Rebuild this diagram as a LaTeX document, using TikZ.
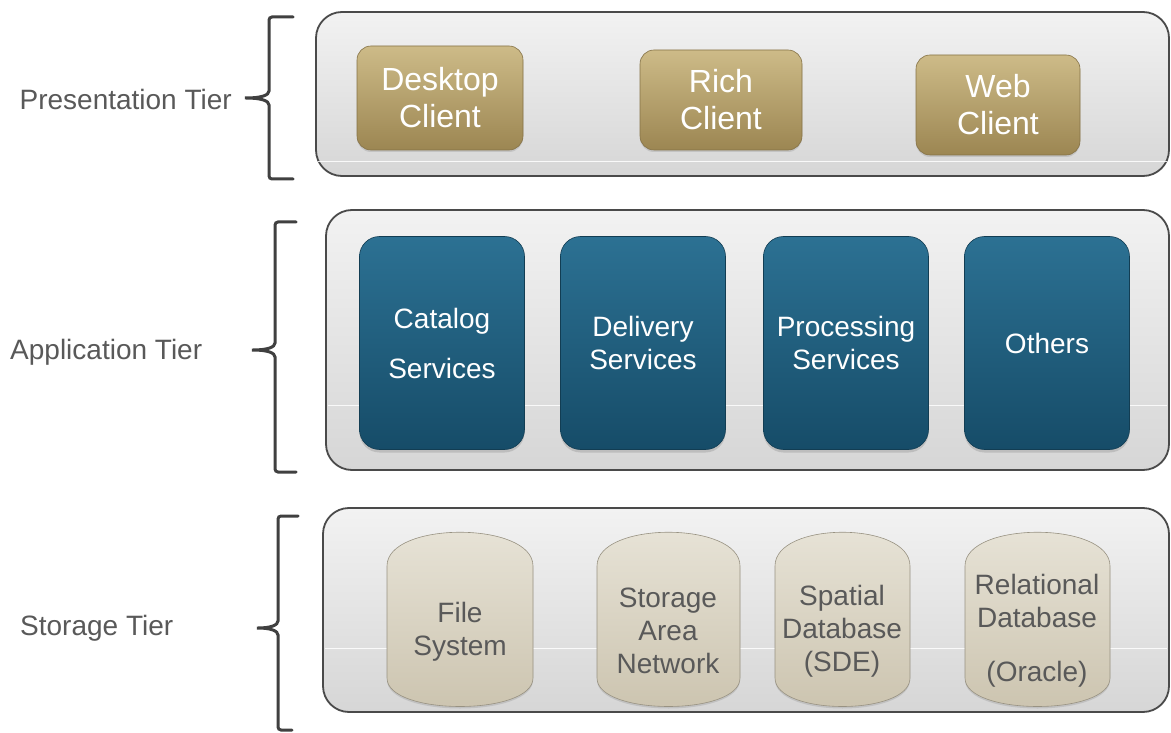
\documentclass[tikz,border=0pt]{standalone}
\usepackage{fontspec}
\setmainfont{Liberation Sans}
\usetikzlibrary{shadows}

\definecolor{panelTop}{HTML}{F2F2F2}
\definecolor{panelBot}{HTML}{D6D6D6}
\definecolor{panelEdge}{HTML}{4A4A4A}
\definecolor{goldTop}{HTML}{CDBB88}
\definecolor{goldBot}{HTML}{9C8652}
\definecolor{blueTop}{HTML}{2C7193}
\definecolor{blueBot}{HTML}{164C68}
\definecolor{sandTop}{HTML}{E8E4D8}
\definecolor{sandBot}{HTML}{CBC3AE}
\definecolor{labelGray}{HTML}{595959}
\definecolor{braceGray}{HTML}{404040}

\tikzset{
  panel/.style={draw=panelEdge, line width=1.8pt, rounded corners=26pt,
    top color=panelTop, bottom color=panelBot},
  sheen/.style={draw=white, line width=1pt, opacity=0.85},
  clientbox/.style={rounded corners=14pt, top color=goldTop, bottom color=goldBot,
    draw=goldBot!85!black, line width=0.6pt,
    drop shadow={opacity=0.25, shadow xshift=0pt, shadow yshift=-2pt},
    minimum width=166pt, minimum height=104pt, inner sep=0pt,
    align=center, text=white, font=\fontsize{32}{37}\selectfont},
  servicebox/.style={rounded corners=20pt, top color=blueTop, bottom color=blueBot,
    draw=blueBot!80!black, line width=0.6pt,
    drop shadow={opacity=0.3, shadow xshift=0pt, shadow yshift=-3pt},
    minimum width=165pt, minimum height=213pt, inner sep=0pt,
    align=center, text=white, font=\fontsize{28}{33}\selectfont},
  drum/.style={top color=sandTop, bottom color=sandBot,
    draw=sandBot!75!black, line width=0.6pt,
    drop shadow={opacity=0.25, shadow xshift=0pt, shadow yshift=-2pt}},
  drumtext/.style={align=center, text=labelGray, inner sep=0pt,
    font=\fontsize{28}{33}\selectfont},
  tierlabel/.style={text=labelGray, inner sep=0pt, font=\fontsize{28}{32}\selectfont},
  tierbrace/.style={draw=braceGray, line width=3pt, rounded corners=3pt, line cap=round}
}

% storage drum: left x, right x
\newcommand{\drumshape}[2]{%
  \path[drum] (#1,678) -- (#1,566) .. controls (#1,521) and (#2,521) .. (#2,566)
    -- (#2,678) .. controls (#2,716) and (#1,716) .. (#1,678) -- cycle;}

\begin{document}
\begin{tikzpicture}[x=1pt, y=-1pt]
\useasboundingbox (0,0) rectangle (1171,733);
\fill[white] (0,0) rectangle (1171,733);

% ---- tier panels ----
\path[panel] (316,12) rectangle (1169,176);
\draw[sheen] (318,162) -- (1167,162);
\path[panel] (326,210) rectangle (1169,470);
\draw[sheen] (328,405) -- (1167,405);
\path[panel] (323,508) rectangle (1169,712);
\draw[sheen] (325,648) -- (1167,648);

% ---- presentation tier ----
\node[clientbox] (desktop) at (440,98) {Desktop\\Client};
\node[clientbox, minimum width=162pt, minimum height=100pt] (rich) at (721,100) {Rich\\Client};
\node[clientbox, minimum width=164pt, minimum height=100pt] (web) at (998,105) {Web\\Client};

% ---- application tier ----
\node[servicebox] (catalog) at (442,343) {Catalog\\[17pt]Services};
\node[servicebox] (delivery) at (643,343) {Delivery\\Services};
\node[servicebox] (processing) at (846,343) {Processing\\Services};
\node[servicebox] (others) at (1047,343) {Others};

% ---- storage tier ----
\drumshape{387}{533}
\node[drumtext] (filesys) at (460,632) {File\\System};
\drumshape{597}{740}
\node[drumtext] (san) at (668,631) {Storage\\Area\\Network};
\drumshape{775}{910}
\node[drumtext] (sde) at (842,631) {Spatial\\Database\\(SDE)};
\drumshape{965}{1110}
\node[drumtext] (rdb) at (1037,631) {Relational\\Database\\[21pt](Oracle)};

% ---- tier labels and braces ----
\node[tierlabel, anchor=east] (lblpres) at (232,99) {Presentation Tier};
\coordinate (tippres) at (243,98);
\draw[tierbrace] (293,17) -- (269,17) -- (269,88)
  .. controls (269,95) and (262,98) .. (tippres)
  .. controls (262,98) and (269,101) .. (269,108) -- (269,179) -- (293,179);

\node[tierlabel, anchor=west] (lblapp) at (10,352) {Application Tier};
\coordinate (tipapp) at (250,350);
\draw[tierbrace] (296,222) -- (275,222) -- (275,340)
  .. controls (275,347) and (268,350) .. (tipapp)
  .. controls (268,350) and (275,353) .. (275,360) -- (275,472) -- (296,472);

\node[tierlabel, anchor=west] (lblsto) at (20,628) {Storage Tier};
\coordinate (tipsto) at (255,628);
\draw[tierbrace] (298,516) -- (278,516) -- (278,618)
  .. controls (278,625) and (271,628) .. (tipsto)
  .. controls (271,628) and (278,631) .. (278,638) -- (278,730) -- (292,730);
\end{tikzpicture}
\end{document}
